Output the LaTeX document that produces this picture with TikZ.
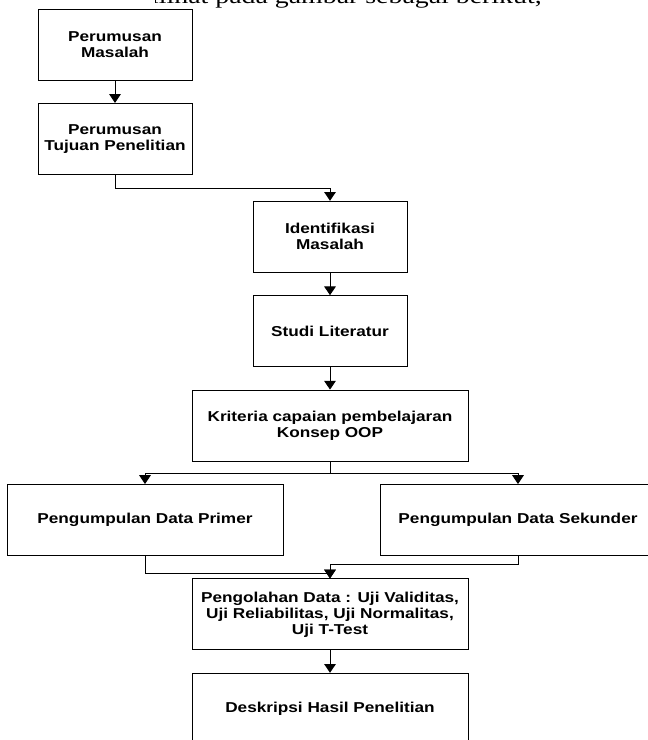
\documentclass[tikz,border=0pt]{standalone}
\usepackage{fontspec}
\newfontfamily\boxfont{Liberation Sans}[FakeStretch=1.2]
\newfontfamily\introfont{Liberation Serif}[FakeStretch=1.27]
\usetikzlibrary{arrows.meta}
\tikzstyle{process} = [rectangle, minimum width = 3.85cm, minimum height = 1.775cm, text centered, align = center, draw = black, line width = 0.7pt, font = \boxfont\bfseries\fontsize{10.2}{11.4}\selectfont]
\tikzstyle{wideprocess} = [process, minimum width = 6.9cm]
\tikzstyle{arrow} = [line width = 0.7pt, ->, >={Triangle[width=2.9mm,length=2.2mm]}]

\begin{document}
\begin{tikzpicture}[node distance = 2.36cm]
    \useasboundingbox (0,0) rectangle (16.2,-18.5);
    % cut-off line of the page text
    \begin{scope}
        \clip (3.875,0.6) rectangle (16.2,-0.5);
        \node(intro)[anchor = base east, inner sep = 0pt, font = \introfont\fontsize{15.6}{18}\selectfont] at (13.55,-0.08){dilihat pada gambar sebagai berikut,};
    \end{scope}

    % \node(label)[style]{text};
    \node(rumus)[process] at (2.875,-1.1125){Perumusan\\Masalah};
    \node(tujuan)[process, below of = rumus]{Perumusan\\Tujuan Penelitian};
    \node(ident)[process, below of = tujuan, xshift = 5.375cm, yshift = -0.0875cm]{Identifikasi\\Masalah};
    \node(studi)[process, below of = ident]{Studi Literatur};
    \node(kriteria)[wideprocess, below of = studi]{Kriteria capaian pembelajaran\\Konsep OOP};
    \node(primer)[wideprocess, below of = kriteria, xshift = -4.625cm]{Pengumpulan Data Primer};
    \node(sekunder)[wideprocess, below of = kriteria, xshift = 4.7cm]{Pengumpulan Data Sekunder};
    \node(olah)[wideprocess, below of = kriteria, yshift = -2.36cm]{Pengolahan Data : Uji Validitas,\\Uji Reliabilitas, Uji Normalitas,\\Uji T-Test};
    \node(hasil)[wideprocess, below of = olah]{Deskripsi Hasil Penelitian};

    \draw[arrow](rumus)--(tujuan);
    \draw[arrow](tujuan.south)--++(0,-0.35)-|(ident.north);
    \draw[arrow](ident)--(studi);
    \draw[arrow](studi)--(kriteria);
    \draw[line width = 0.7pt](kriteria.south)--++(0,-0.3)coordinate(split);
    \draw[arrow](split)-|(primer.north);
    \draw[arrow](split)-|(sekunder.north);
    \draw[arrow](primer.south)--++(0,-0.425)-|(olah.north);
    \draw[arrow](sekunder.south)--++(0,-0.2)-|(olah.north);
    \draw[arrow](olah)--(hasil);
\end{tikzpicture}
\end{document}
